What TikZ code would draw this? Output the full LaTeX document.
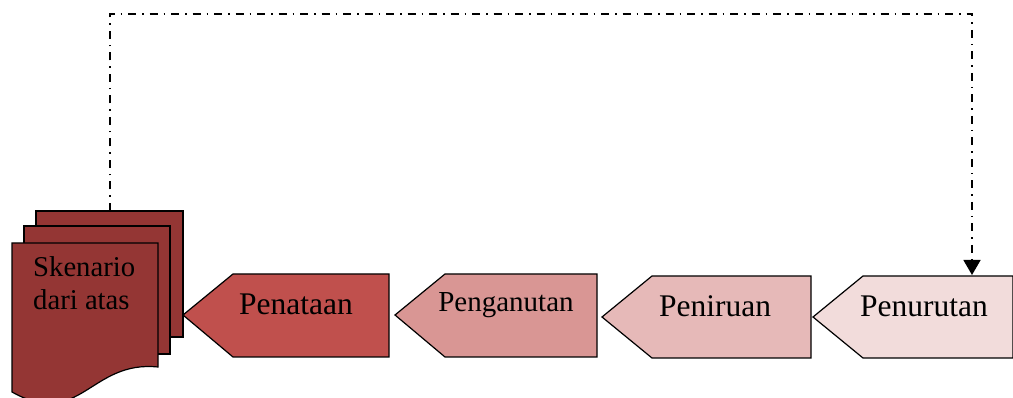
\documentclass[tikz,border=0pt]{standalone}
\usepackage{fontspec}
\setmainfont{Liberation Serif}
\usetikzlibrary{arrows.meta}
\definecolor{docred}{HTML}{943634}
\definecolor{cA}{HTML}{C0504D}
\definecolor{cB}{HTML}{D99694}
\definecolor{cC}{HTML}{E6B9B8}
\definecolor{cD}{HTML}{F2DCDB}
\begin{document}
\begin{tikzpicture}[x=1pt,y=-1pt,
  outline/.style={draw=black,line width=1.2pt,line join=miter},
  lbl/.style={font=\fontsize{31.5}{33}\selectfont,inner sep=0pt,anchor=base},
  link/.style={line width=1.5pt,dash pattern=on 8pt off 6pt on 1.5pt off 6pt,
    -{Triangle[width=17pt,length=15pt]}}]
\useasboundingbox (0,0) rectangle (1013,398);
% stacked documents
\path[outline,fill=docred] (36,211) rectangle (183,337);
\path[outline,fill=docred] (24,226) rectangle (170,354);
\path[outline,fill=docred] (12,243) -- (158,243) -- (158,367)
  .. controls (90,360) and (80,430) .. (12,392) -- cycle;
\node[lbl,anchor=base west,align=left,font=\fontsize{28.7}{33}\selectfont] (doc) at (33,310) {Skenario\\dari atas};
% chevrons
\path[outline,fill=cA] (183,315) -- (233,274) -- (389,274) -- (389,357) -- (233,357) -- cycle;
\path[outline,fill=cB] (395,315) -- (445,274) -- (597,274) -- (597,357) -- (445,357) -- cycle;
\path[outline,fill=cC] (602,317) -- (652,276) -- (811,276) -- (811,358) -- (652,358) -- cycle;
\path[outline,fill=cD] (813,317) -- (863,276) -- (1013,276) -- (1013,358) -- (863,358) -- cycle;
\node[lbl] (penataan) at (296,315) {Penataan};
\node[lbl,font=\fontsize{29}{33}\selectfont] (penganutan) at (506,312) {Penganutan};
\node[lbl] (peniruan) at (715,317) {Peniruan};
\node[lbl] (penurutan) at (924,317) {Penurutan};
% feedback connector
\coordinate (docTop) at (110,211);
\coordinate (topLeft) at (110,14);
\coordinate (target) at (972,275);
\draw[link] (docTop) -- (topLeft) -| (target);
\end{tikzpicture}
\end{document}
